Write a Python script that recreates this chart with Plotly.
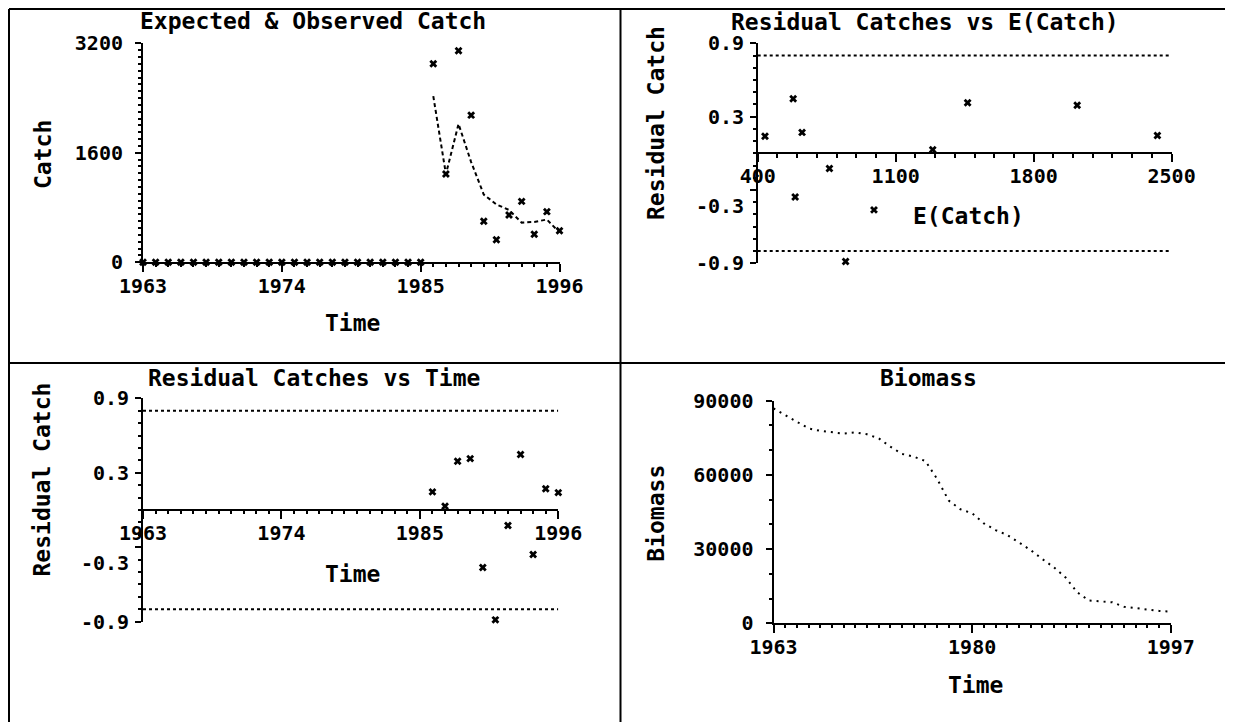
import plotly.graph_objects as go

# ---------------- data ----------------
years_all = [1963, 1964, 1965, 1966, 1967, 1968, 1969, 1970, 1971, 1972, 1973, 1974,
             1975, 1976, 1977, 1978, 1979, 1980, 1981, 1982, 1983, 1984, 1985, 1986,
             1987, 1988, 1989, 1990, 1991, 1992, 1993, 1994, 1995, 1996]
obs_catch = [0, 0, 0, 0, 0, 0, 0, 0, 0, 0, 0, 0,
             0, 0, 0, 0, 0, 0, 0, 0, 0, 0, 0, 2900,
             1290, 3090, 2150, 600, 330, 690, 890, 410, 740, 460]

exp_years = [1986, 1987, 1988, 1989, 1990, 1991, 1992, 1993, 1994, 1995, 1996]
exp_catch = [2428, 1288, 2021, 1465, 990, 846, 764, 580, 590, 625, 437]
residuals = [0.146, 0.03, 0.393, 0.414, -0.463, -0.885, -0.125, 0.447, -0.358, 0.171, 0.14]
resid_limit = [0.8, -0.8]

bio_years = [1963, 1964, 1965, 1966, 1967, 1968, 1969, 1970, 1971, 1972, 1973, 1974,
             1975, 1976, 1977, 1978, 1979, 1980, 1981, 1982, 1983, 1984, 1985, 1986,
             1987, 1988, 1989, 1990, 1991, 1992, 1993, 1994, 1995, 1996, 1997]
biomass = [86900, 84200, 81500, 78800, 77800, 77100, 76700, 77200, 76400, 74800,
           71400, 68500, 67400, 65600, 58400, 49600, 46100, 44500, 40400, 37700,
           35700, 32700, 29600, 26000, 22600, 18500, 12500, 9200, 8800, 8500,
           6700, 6100, 5400, 5000, 4700]

time_ticks = [1963, 1974, 1985, 1996]
catch_ticks = [0, 1600, 3200]
ecatch_ticks = [400, 1100, 1800, 2500]
resid_ticks = [-0.9, -0.3, 0.3, 0.9]
resid_ticktext = ["-0.9", "-0.3", "0.3", "0.9"]
bio_time_ticks = [1963, 1980, 1997]
bio_ticks = [0, 30000, 60000, 90000]

# ---------------- layout helpers ----------------
# the page body has an 8px margin, so the figure is drawn 8px in from the top-left
OX, OY = 8, 8
W, H = 1233 - OX, 722 - OY


def fx(p):
    return (p - OX) / W


def fy(p):
    return 1 - (p - OY) / H


FONT = "DejaVu Sans Mono"
tickfont = dict(family=FONT, size=20, color="black", weight="bold")


def axis(**kw):
    d = dict(showline=True, linecolor="black", linewidth=2, showgrid=False,
             zeroline=False, ticks="outside", tickcolor="black", tickwidth=2,
             tickfont=tickfont, fixedrange=True, tickmode="array", tickformat="d")
    d.update(kw)
    return d


def minor(t0, dt, ln=3):
    return dict(ticks="outside", tickmode="linear", tick0=t0, dtick=dt,
                ticklen=ln, tickcolor="black", tickwidth=2, showgrid=False)


mk = dict(symbol="x", size=7, color="black")

fig = go.Figure()

# Panel 1: expected & observed catch
fig.add_trace(go.Scatter(x=years_all, y=obs_catch, mode="markers", marker=mk,
                         cliponaxis=False, xaxis="x", yaxis="y"))
fig.add_trace(go.Scatter(x=exp_years, y=exp_catch, mode="lines",
                         line=dict(color="black", width=2, dash="4px,3px"),
                         cliponaxis=False, xaxis="x", yaxis="y"))

# Panel 2: residuals vs E(catch)
for lim in resid_limit:
    fig.add_trace(go.Scatter(x=[ecatch_ticks[0], ecatch_ticks[-1]], y=[lim, lim], mode="lines",
                             line=dict(color="black", width=2, dash="3px,3px"),
                             xaxis="x2", yaxis="y2"))
fig.add_trace(go.Scatter(x=exp_catch, y=residuals, mode="markers", marker=mk,
                         cliponaxis=False, xaxis="x2", yaxis="y2"))

# Panel 3: residuals vs time
for lim in resid_limit:
    fig.add_trace(go.Scatter(x=[time_ticks[0], time_ticks[-1]], y=[lim, lim], mode="lines",
                             line=dict(color="black", width=2, dash="3px,3px"),
                             xaxis="x3", yaxis="y3"))
fig.add_trace(go.Scatter(x=exp_years, y=residuals, mode="markers", marker=mk,
                         cliponaxis=False, xaxis="x3", yaxis="y3"))

# Panel 4: biomass
fig.add_trace(go.Scatter(x=bio_years, y=biomass, mode="lines",
                         line=dict(color="black", width=2, dash="2px,5px"),
                         cliponaxis=False, xaxis="x4", yaxis="y4"))

fig.update_layout(
    width=W, height=H, margin=dict(l=0, r=0, t=0, b=0, autoexpand=False),
    paper_bgcolor="white", plot_bgcolor="white", showlegend=False,
    font=dict(family=FONT, color="black", weight="bold"),
    xaxis=axis(domain=[fx(143), fx(559.5)], range=[1963, 1996], anchor="y",
               tickvals=time_ticks, ticklen=8, minor=minor(1963, 1),
               ticklabelstandoff=-3),
    yaxis=axis(domain=[fy(262.3), fy(43.3)], range=[0, 3200], anchor="x",
               tickvals=catch_ticks, ticklen=6, minor=minor(0, 100),
               ticklabelstandoff=8),
    xaxis2=axis(domain=[fx(757.7), fx(1171.6)], range=[400, 2500], anchor="free",
                position=fy(153.3), tickvals=ecatch_ticks, ticklen=8,
                minor=minor(400, 100, 4), ticklabelstandoff=-3),
    yaxis2=axis(domain=[fy(263.3), fy(43.3)], range=[-0.9, 0.9], anchor="x2",
                tickvals=resid_ticks, ticklen=6, showticklabels=False,
                minor=minor(-0.9, 0.1)),
    xaxis3=axis(domain=[fx(143), fx(558.3)], range=[1963, 1996], anchor="free",
                position=fy(510.3), tickvals=time_ticks, ticklen=8,
                minor=minor(1963, 1), ticklabelstandoff=-3),
    yaxis3=axis(domain=[fy(621.7), fy(398.3)], range=[-0.9, 0.9], anchor="x3",
                tickvals=resid_ticks, ticklen=6, showticklabels=False,
                minor=minor(-0.9, 0.1)),
    xaxis4=axis(domain=[fx(773.5), fx(1170.8)], range=[1963, 1997], anchor="y4",
                tickvals=bio_time_ticks, ticklen=8, minor=minor(1963, 1),
                ticklabelstandoff=-3),
    yaxis4=axis(domain=[fy(623.3), fy(400.7)], range=[0, 90000], anchor="x4",
                tickvals=bio_ticks, ticklen=6, minor=minor(0, 10000),
                ticklabelstandoff=8),
)

# residual y tick labels (the -0.3 label sits a little below its tick, as in the original)
for yref, xpos in [("y2", 757.7), ("y3", 143)]:
    for v, t in zip(resid_ticks, resid_ticktext):
        fig.add_annotation(text=t, xref="paper", yref=yref, x=fx(xpos), y=v,
                           xanchor="right", yanchor="middle", showarrow=False,
                           xshift=-12, yshift=(-16 if t == "-0.3" else 0),
                           font=tickfont)

# frame lines (paper coords; left/top edges sit at the page's first drawable pixel)
frame = [
    (9, 9, 9, 722), (9, 9, 1230, 9), (1230, 9, 1230, 722),
    (620.5, 9, 620.5, 722), (9, 363, 1230, 363),
]
for x0, y0, x1, y1 in frame:
    fig.add_shape(type="line", xref="paper", yref="paper",
                  x0=fx(x0), y0=fy(y0), x1=fx(x1), y1=fy(y1),
                  line=dict(color="black", width=2))

tfont = dict(family=FONT, size=23, color="black", weight="bold")
texts = [
    ("Expected & Observed Catch", 313, 21, 0),
    ("Residual Catches vs E(Catch)", 925, 21.5, 0),
    ("Residual Catches vs Time", 314, 378, 0),
    ("Biomass", 928.5, 378, 0),
    ("Time", 352, 323, 0),
    ("E(Catch)", 968.6, 216, 0),
    ("Time", 352, 574, 0),
    ("Time", 975.7, 685, 0),
    ("Catch", 43, 155, -90),
    ("Biomass", 656.4, 513.3, -90),
]
for t, x, y, ang in texts:
    fig.add_annotation(text=t, xref="paper", yref="paper", x=fx(x), y=fy(y),
                       xanchor="center", yanchor="middle", showarrow=False,
                       textangle=ang, font=tfont)
for x, yb in [(656, 222), (41.5, 579)]:
    fig.add_annotation(text="Residual Catch", xref="paper", yref="paper",
                       x=fx(x), y=fy(yb), xanchor="center", yanchor="bottom",
                       showarrow=False, textangle=-90, font=tfont)

fig.write_html("out.html")
